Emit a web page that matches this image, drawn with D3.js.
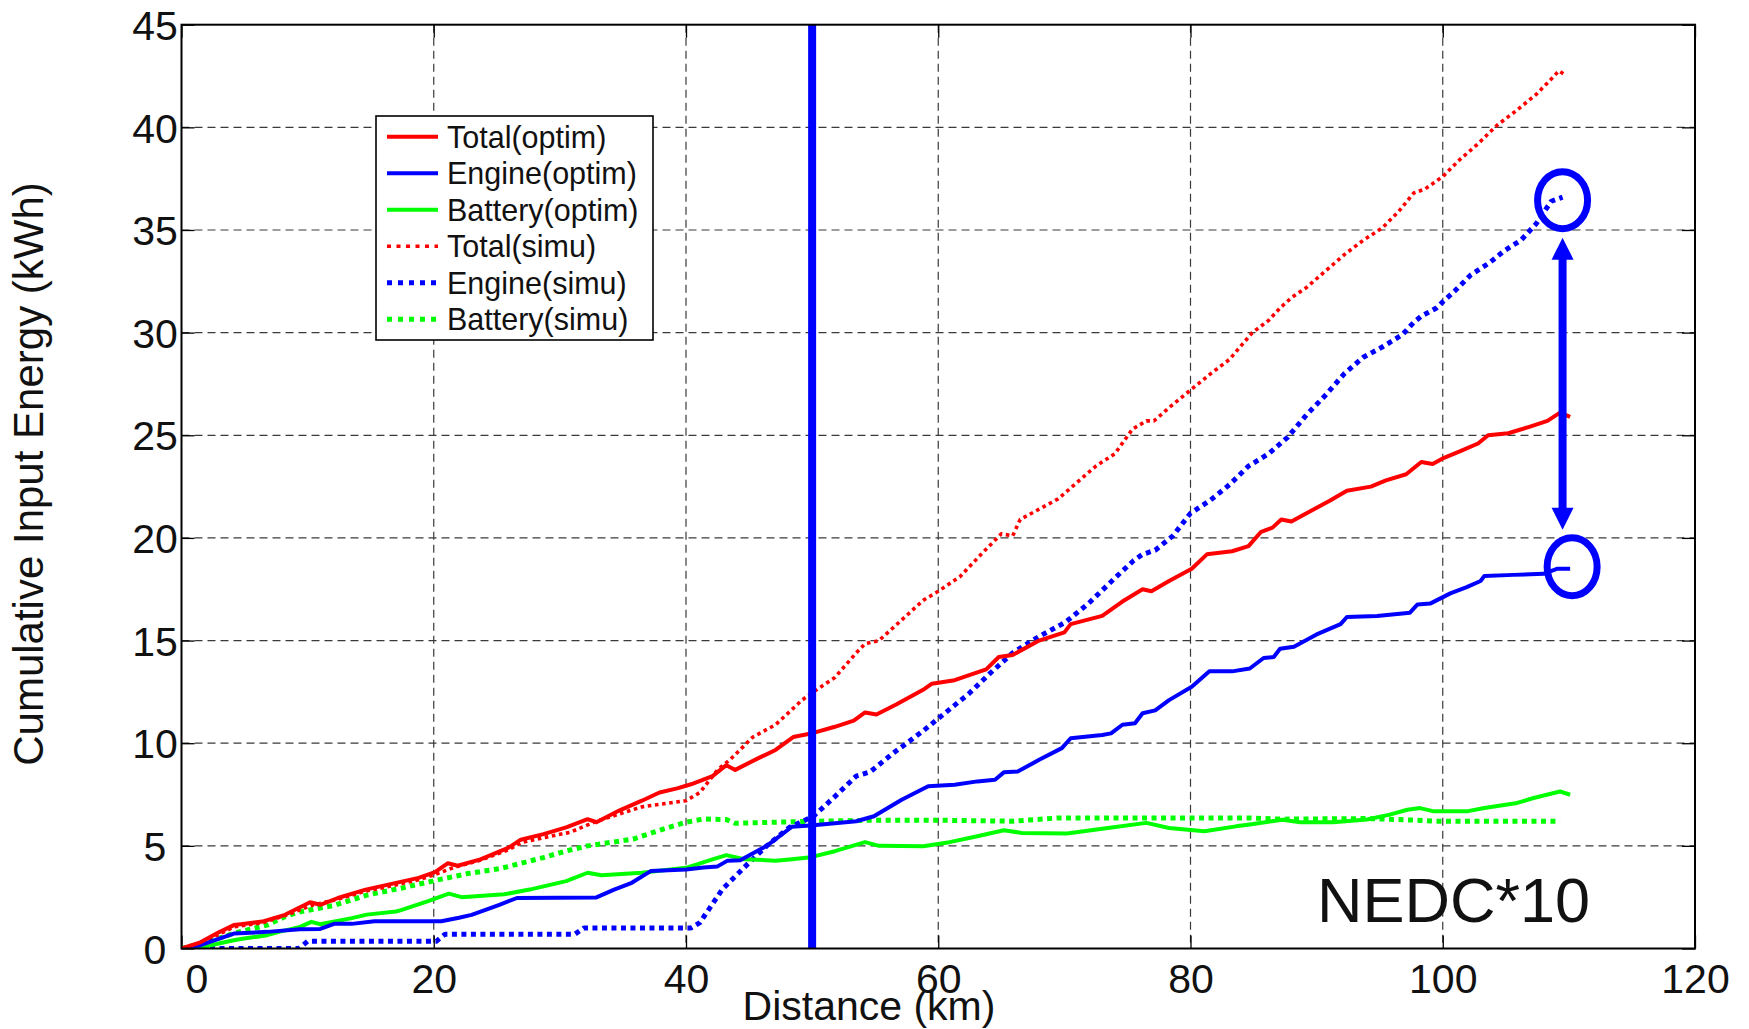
<!DOCTYPE html>
<html>
<head>
<meta charset="utf-8">
<script src="https://cdn.jsdelivr.net/npm/d3@7/dist/d3.min.js"></script>
<style>
  html, body { margin: 0; padding: 0; background: #ffffff; }
  svg { display: block; font-family: "Liberation Sans", Arial, Helvetica, sans-serif; }
</style>
</head>
<body>
<svg id="chart" width="1749" height="1029"></svg>
<script>
// Cumulative input energy along the route, [distance km, energy kWh]
const totalOptim = [[0,0],[1.5,0.3],[3,0.8],[4.15,1.14],[4.7,1.18],[6.4,1.31],[8.2,1.64],[10.2,2.25],[11.0,2.13],[12.4,2.46],[14.6,2.87],[16.3,3.1],[18.8,3.44],[20.1,3.72],[21.1,4.15],[21.9,4.03],[23.7,4.34],[25.9,4.9],[26.9,5.3],[28.7,5.57],[30.5,5.9],[32.2,6.3],[32.9,6.15],[34.7,6.72],[36.5,7.2],[37.9,7.6],[39.3,7.8],[40.4,8.0],[42.1,8.4],[43.2,8.93],[43.9,8.7],[45.7,9.26],[47.1,9.67],[48.5,10.3],[50.1,10.5],[51.8,10.8],[53.3,11.1],[54.2,11.5],[55.1,11.4],[56.7,11.9],[58.8,12.6],[59.5,12.9],[61.3,13.07],[62.4,13.3],[63.8,13.6],[64.8,14.2],[65.9,14.3],[68.0,15.0],[70.0,15.4],[70.5,15.8],[73.0,16.2],[74.6,16.9],[76.2,17.5],[76.9,17.4],[78.3,17.9],[80.1,18.5],[81.3,19.2],[83.3,19.35],[84.6,19.6],[85.6,20.3],[86.5,20.5],[87.2,20.9],[88.0,20.8],[89.2,21.2],[91.0,21.8],[92.4,22.3],[94.3,22.5],[95.5,22.8],[97.1,23.1],[98.3,23.7],[99.2,23.6],[100.1,23.9],[101.3,24.2],[102.8,24.6],[103.6,25.0],[105.2,25.1],[106.8,25.4],[108.3,25.7],[109.3,26.1],[110.1,25.9]];

const engineOptim = [[0,0],[1.5,0.16],[4.15,0.73],[6.8,0.81],[9.4,0.94],[11.0,0.95],[12.1,1.2],[13.5,1.2],[15.3,1.33],[20.6,1.33],[22.0,1.5],[23.0,1.64],[25.2,2.13],[26.6,2.46],[32.9,2.49],[34.3,2.87],[35.7,3.2],[37.2,3.77],[40.0,3.85],[41.4,3.95],[42.5,4.0],[43.3,4.28],[44.3,4.3],[46.4,5.0],[48.4,5.93],[50.1,6.0],[53.5,6.2],[54.9,6.44],[57.1,7.25],[59.2,7.9],[61.3,7.98],[63.1,8.14],[64.5,8.22],[65.2,8.58],[66.3,8.62],[68.0,9.19],[69.8,9.76],[70.5,10.24],[73.0,10.4],[73.7,10.48],[74.6,10.9],[75.6,10.97],[76.2,11.46],[77.2,11.6],[78.3,12.1],[80.1,12.75],[81.5,13.5],[83.3,13.5],[84.7,13.64],[85.8,14.15],[86.6,14.2],[87.1,14.6],[88.2,14.7],[90.0,15.3],[91.9,15.8],[92.4,16.15],[94.8,16.2],[97.4,16.36],[98.0,16.76],[99.0,16.8],[100.6,17.3],[101.9,17.6],[103.0,17.9],[103.3,18.15],[105.6,18.2],[108.0,18.25],[109.1,18.5],[110.1,18.5]];

const batteryOptim = [[0,0],[1.5,0.05],[4.15,0.4],[4.7,0.46],[6.8,0.65],[7.8,0.82],[9.4,1.05],[10.3,1.3],[11.0,1.18],[13.5,1.48],[14.7,1.65],[17.0,1.8],[17.4,1.87],[19.5,2.3],[21.2,2.67],[22.2,2.5],[25.6,2.64],[27.6,2.87],[30.5,3.28],[32.2,3.69],[33.3,3.57],[36.5,3.69],[40.0,3.93],[42.1,4.34],[43.2,4.55],[44.6,4.35],[47.1,4.28],[48.2,4.34],[49.9,4.45],[51.8,4.74],[54.2,5.18],[55.3,5.0],[58.8,4.98],[60.9,5.18],[63.1,5.47],[65.2,5.76],[66.6,5.63],[70.2,5.6],[73.0,5.83],[76.5,6.12],[78.3,5.87],[81.1,5.71],[83.6,5.95],[84.7,6.04],[87.3,6.27],[88.7,6.15],[91.3,6.15],[94.0,6.28],[95.8,6.52],[97.2,6.76],[98.2,6.84],[99.3,6.68],[101.9,6.68],[103.3,6.84],[105.9,7.09],[107.2,7.33],[109.3,7.65],[110.1,7.49]];

const totalSimu = [[0,0],[1.5,0.25],[4.15,1.05],[6.4,1.25],[8.2,1.6],[10.3,2.1],[12.4,2.4],[14.6,2.8],[16.3,3.0],[18.8,3.35],[20.1,3.6],[21.6,3.95],[23.7,4.3],[25.9,4.8],[26.9,5.15],[28.7,5.4],[30.8,5.66],[32.9,6.2],[36.5,6.9],[40.0,7.2],[41.1,7.6],[42.5,8.7],[43.5,9.2],[45.3,10.3],[47.1,10.9],[49.2,12.1],[50.1,12.5],[51.8,13.2],[53.5,14.4],[54.2,14.85],[55.3,15.0],[57.1,16.0],[58.8,16.96],[60.0,17.4],[61.7,18.1],[63.4,19.2],[65.0,20.2],[65.9,20.1],[66.5,20.9],[68.0,21.4],[69.5,21.9],[71.0,22.7],[72.5,23.5],[74.0,24.1],[75.4,25.3],[76.5,25.7],[77.1,25.7],[78.6,26.5],[80.0,27.2],[81.6,28.0],[83.1,28.7],[84.9,30.0],[86.2,30.6],[87.1,31.2],[88.0,31.7],[89.2,32.2],[90.7,33.0],[92.2,33.8],[93.7,34.5],[95.2,35.1],[96.5,35.9],[97.7,36.8],[98.6,37.0],[100.0,37.6],[101.3,38.4],[102.8,39.2],[104.3,40.1],[105.8,40.8],[107.4,41.6],[108.6,42.35],[109.2,42.75],[109.6,42.6]];

const engineSimu = [[0,0],[9.3,0],[10.0,0.35],[20.2,0.35],[20.9,0.7],[31.2,0.7],[31.9,1.0],[40.4,1.0],[41.1,1.26],[42.9,2.9],[44.7,4.0],[46.4,5.0],[48.2,5.9],[50.1,6.44],[51.8,7.4],[53.5,8.4],[54.6,8.6],[56.4,9.5],[58.8,10.6],[60.6,11.5],[62.4,12.4],[64.1,13.4],[65.9,14.4],[68.0,15.2],[70.1,15.9],[71.9,16.8],[74.1,18.1],[75.5,18.9],[76.2,19.2],[77.2,19.4],[78.6,20.1],[80.0,21.2],[81.6,21.85],[83.1,22.6],[84.6,23.5],[86.2,24.1],[87.7,24.9],[89.2,26.0],[90.7,26.95],[92.2,28.0],[93.7,28.8],[95.2,29.3],[96.8,29.9],[97.7,30.5],[98.3,30.8],[99.5,31.2],[100.0,31.5],[101.0,32.06],[102.2,32.8],[103.7,33.4],[104.9,34.0],[106.2,34.5],[107.4,35.3],[108.6,36.4],[109.5,36.6]];

const batterySimu = [[0,0],[2.0,0.3],[4.2,0.75],[6.8,1.14],[8.2,1.55],[9.4,1.79],[12.1,2.1],[14.7,2.6],[17.5,2.95],[20.0,3.3],[22.7,3.65],[25.3,3.9],[28.7,4.43],[30.5,4.75],[32.2,5.0],[35.8,5.33],[38.2,5.82],[40.0,6.15],[41.4,6.31],[43.2,6.28],[43.9,6.1],[47.1,6.15],[50.1,6.2],[55.0,6.25],[60.0,6.25],[65.9,6.2],[69.5,6.36],[76.5,6.36],[84.7,6.36],[87.2,6.3],[94.0,6.33],[98.0,6.25],[99.3,6.2],[109.3,6.2]];

const seriesNames = ["Total(optim)", "Engine(optim)", "Battery(optim)", "Total(simu)", "Engine(simu)", "Battery(simu)"];
const xTicks = [0, 20, 40, 60, 80, 100, 120];
const yTicks = [0, 5, 10, 15, 20, 25, 30, 35, 40, 45];
const markerDistance = 50;        // vertical reference line, km
const cycleLabel = "NEDC*10";
const xTitle = "Distance (km)";
const yTitle = "Cumulative Input Energy (kWh)";

const svg = d3.select("#chart");
const plotL = 181.5, plotR = 1695, plotT = 24.7, plotB = 948.5;

const x = d3.scaleLinear().domain([0, 120]).range([plotL, plotR]);
const y = d3.scaleLinear().domain([0, 45]).range([plotB, plotT]);

const RED = "#ff0000", BLUE = "#0000ff", GREEN = "#00ff00";
const styles = [
  { data: batterySimu,  color: GREEN, width: 5,   dash: "5,4.5" },
  { data: engineSimu,   color: BLUE,  width: 5,   dash: "5,4.5" },
  { data: totalSimu,    color: RED,   width: 3.6, dash: "3.6,3.6" },
  { data: batteryOptim, color: GREEN, width: 4,   dash: null },
  { data: engineOptim,  color: BLUE,  width: 4,   dash: null },
  { data: totalOptim,   color: RED,   width: 4,   dash: null }
];

// grid
const grid = svg.append("g").attr("stroke", "#3a3a3a").attr("stroke-width", 1.2)
  .attr("stroke-dasharray", "8,5").attr("fill", "none");
grid.selectAll("line.gx").data(xTicks.filter(t => t > 0 && t < 120)).join("line")
  .attr("x1", d => x(d)).attr("x2", d => x(d)).attr("y1", plotT).attr("y2", plotB);
grid.selectAll("line.gy").data(yTicks.filter(t => t > 0 && t < 45)).join("line")
  .attr("y1", d => y(d)).attr("y2", d => y(d)).attr("x1", plotL).attr("x2", plotR);

// axes with inward ticks on all four sides
const tickLen = 13;
const fmt = d3.format("d");
const gB = svg.append("g").attr("transform", `translate(0,${plotB})`)
  .call(d3.axisBottom(x).tickValues(xTicks).tickSize(-tickLen).tickPadding(15).tickFormat(fmt));
const gL = svg.append("g").attr("transform", `translate(${plotL},0)`)
  .call(d3.axisLeft(y).tickValues(yTicks).tickSize(-tickLen).tickFormat(fmt));
const gT = svg.append("g").attr("transform", `translate(0,${plotT})`)
  .call(d3.axisTop(x).tickValues(xTicks).tickSize(-tickLen).tickFormat(""));
const gR = svg.append("g").attr("transform", `translate(${plotR},0)`)
  .call(d3.axisRight(y).tickValues(yTicks).tickSize(-tickLen).tickFormat(""));
[gB, gL, gT, gR].forEach(g => {
  g.select(".domain").remove();
  g.selectAll(".tick line").attr("stroke", "#000").attr("stroke-width", 1.3);
  g.selectAll("text").attr("fill", "#111").attr("font-size", 41)
    .attr("font-family", "'Liberation Sans', Arial, sans-serif");
});
gL.selectAll(".tick text").attr("text-anchor", "middle").attr("x", -26.5).attr("dy", "0.358em");
// the origin label sits a little right of its tick, clear of the y labels
gB.selectAll(".tick text").filter(d => d === 0).attr("dx", 15);

// curves
const clipId = "plotClip";
svg.append("clipPath").attr("id", clipId).append("rect")
  .attr("x", plotL).attr("y", plotT).attr("width", plotR - plotL).attr("height", plotB - plotT);
const line = d3.line().x(d => x(d[0])).y(d => y(d[1]));
const curves = svg.append("g").attr("clip-path", `url(#${clipId})`);
styles.forEach(s => {
  curves.append("path").datum(s.data)
    .attr("d", line).attr("fill", "none")
    .attr("stroke", s.color).attr("stroke-width", s.width)
    .attr("stroke-dasharray", s.dash)
    .attr("stroke-linejoin", "round");
});

// vertical reference line
svg.append("line")
  .attr("x1", x(markerDistance)).attr("x2", x(markerDistance))
  .attr("y1", plotT).attr("y2", plotB)
  .attr("stroke", BLUE).attr("stroke-width", 8);

// frame
svg.append("rect").attr("x", plotL).attr("y", plotT)
  .attr("width", plotR - plotL).attr("height", plotB - plotT)
  .attr("fill", "none").attr("stroke", "#000").attr("stroke-width", 2);

// gap annotation between the two engine end points
const endSimu = engineSimu[engineSimu.length - 1];
const endOptim = engineOptim[engineOptim.length - 1];
const ann = svg.append("g").attr("fill", "none").attr("stroke", BLUE).attr("stroke-width", 7);
ann.append("ellipse").attr("cx", x(endSimu[0])).attr("cy", y(endSimu[1]) + 3)
  .attr("rx", 25).attr("ry", 28.5);
ann.append("ellipse").attr("cx", x(endOptim[0]) + 2).attr("cy", y(endOptim[1]) - 2)
  .attr("rx", 25).attr("ry", 29);
const ax = x(endSimu[0]);
const tipTop = y(endSimu[1]) + 3 + 28.5 + 9;
const tipBot = y(endOptim[1]) - 2 - 29 - 8;
const headH = 22, headW = 11;
ann.append("line").attr("x1", ax).attr("x2", ax)
  .attr("y1", tipTop + headH - 1).attr("y2", tipBot - headH + 1)
  .attr("stroke-width", 8);
ann.append("path").attr("stroke", "none").attr("fill", BLUE)
  .attr("d", `M${ax},${tipTop} L${ax + headW},${tipTop + headH} L${ax - headW},${tipTop + headH} Z`);
ann.append("path").attr("stroke", "none").attr("fill", BLUE)
  .attr("d", `M${ax},${tipBot} L${ax + headW},${tipBot - headH} L${ax - headW},${tipBot - headH} Z`);

// cycle label
svg.append("text").attr("x", 1317).attr("y", 922)
  .attr("font-size", 63).attr("fill", "#111").text(cycleLabel);

// axis titles
svg.append("text").attr("x", 869).attr("y", 1020).attr("text-anchor", "middle")
  .attr("font-size", 41).attr("fill", "#111").text(xTitle);
svg.append("text").attr("transform", "translate(43,474) rotate(-90)")
  .attr("text-anchor", "middle").attr("font-size", 42).attr("fill", "#111").text(yTitle);

// legend
const legendStyles = [
  { color: RED, width: 4, dash: null },
  { color: BLUE, width: 4, dash: null },
  { color: GREEN, width: 4, dash: null },
  { color: RED, width: 3.6, dash: "4,5.5" },
  { color: BLUE, width: 5, dash: "5,6" },
  { color: GREEN, width: 5, dash: "5,6" }
];
const lg = svg.append("g");
lg.append("rect").attr("x", 376).attr("y", 116).attr("width", 277).attr("height", 224)
  .attr("fill", "#fff").attr("stroke", "#000").attr("stroke-width", 1.6);
const rowY = i => 136.7 + i * 36.5;
seriesNames.forEach((name, i) => {
  const st = legendStyles[i];
  lg.append("line").attr("x1", 387).attr("x2", 438).attr("y1", rowY(i)).attr("y2", rowY(i))
    .attr("stroke", st.color).attr("stroke-width", st.width).attr("stroke-dasharray", st.dash);
  lg.append("text").attr("x", 447).attr("y", rowY(i)).attr("dy", "0.36em")
    .attr("font-size", 30.5).attr("fill", "#111").text(name);
});
</script>
</body>
</html>
